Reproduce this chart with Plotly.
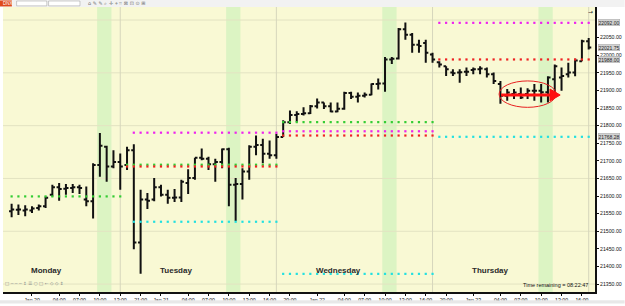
import plotly.graph_objects as go

# ---------------- data (hourly bars, index 0..85) ----------------
OPEN = [21557, 21561, 21559, 21559, 21566, 21571, 21604, 21625, 21621, 21623,
        21625, 21590, 21585, 21688, 21740, 21684, 21697, 21688, 21730, 21468,
        21590, 21590, 21625, 21604, 21595, 21596, 21637, 21651, 21709, 21706,
        21690, 21697, 21733, 21632, 21634, 21670, 21740, 21745, 21720, 21716,
        21768, 21810, 21830, 21833, 21835, 21855, 21866, 21855, 21840, 21848,
        21893, 21882, 21885, 21888, 21918, 21920, 21988, 21991, 22074, 22058,
        22030, 22035, 22002, 21980, 21969, 21951, 21951, 21953, 21958, 21960,
        21960, 21946, 21918, 21885, 21890, 21890, 21890, 21899, 21899, 21895,
        21932, 21937, 21946, 21951, 21983, 22040]
HIGH = [21578, 21576, 21574, 21571, 21576, 21599, 21632, 21637, 21634, 21634,
        21632, 21627, 21693, 21779, 21743, 21730, 21721, 21740, 21747, 21618,
        21609, 21651, 21632, 21618, 21620, 21646, 21676, 21709, 21735, 21712,
        21706, 21735, 21737, 21651, 21679, 21744, 21772, 21763, 21758, 21777,
        21815, 21843, 21841, 21852, 21859, 21877, 21866, 21866, 21866, 21896,
        21896, 21894, 21894, 21920, 21934, 21995, 21995, 22077, 22093, 22063,
        22044, 22044, 22007, 21983, 21969, 21960, 21960, 21965, 21965, 21969,
        21965, 21951, 21927, 21904, 21904, 21908, 21906, 21918, 21918, 21940,
        21974, 21965, 21979, 21990, 22044, 22049]
LOW = [21540, 21546, 21543, 21552, 21559, 21566, 21599, 21587, 21604, 21609,
       21606, 21571, 21536, 21655, 21641, 21679, 21618, 21674, 21449, 21379,
       21563, 21585, 21599, 21578, 21583, 21583, 21606, 21646, 21702, 21674,
       21641, 21679, 21571, 21529, 21590, 21646, 21716, 21693, 21706, 21706,
       21768, 21805, 21810, 21829, 21833, 21849, 21847, 21838, 21838, 21845,
       21876, 21866, 21880, 21886, 21903, 21896, 21975, 21988, 22044, 22007,
       22007, 21979, 21979, 21965, 21941, 21941, 21922, 21941, 21946, 21946,
       21937, 21918, 21862, 21871, 21876, 21876, 21876, 21871, 21866, 21866,
       21894, 21899, 21937, 21940, 21983, 22016]
CLOSE = [21562, 21562, 21562, 21565, 21571, 21595, 21625, 21620, 21623, 21625,
         21623, 21585, 21688, 21743, 21684, 21697, 21684, 21730, 21468, 21590,
         21587, 21625, 21604, 21595, 21596, 21641, 21651, 21709, 21706, 21690,
         21697, 21733, 21632, 21634, 21670, 21740, 21745, 21720, 21716, 21768,
         21810, 21830, 21833, 21835, 21855, 21866, 21855, 21840, 21848, 21893,
         21882, 21885, 21888, 21918, 21920, 21988, 21990, 22074, 22058, 22030,
         22026, 22007, 21988, 21974, 21960, 21949, 21952, 21953, 21960, 21962,
         21946, 21927, 21885, 21894, 21894, 21880, 21899, 21899, 21895, 21937,
         21969, 21941, 21951, 21985, 22040, 22021.75]
IDX = list(range(len(OPEN)))

# x tick labels (bar index -> label)
X_TICK_IDX = [3, 7, 10, 13, 16, 19, 22, 26, 29, 32, 35, 38, 41, 45, 49, 52, 55,
              58, 61, 64, 68, 72, 75, 78, 81, 84]
X_TICK_TXT = ["Jan 20", "04:00", "07:00", "10:00", "13:00", "21:00", "Jan 21",
              "04:00", "07:00", "10:00", "13:00", "16:00", "20:00", "Jan 22",
              "04:00", "07:00", "10:00", "13:00", "16:00", "20:00", "Jan 23",
              "04:00", "07:00", "10:00", "13:00", "16:00"]

Y_TICKS = [21350 + 50 * k for k in range(15)]
Y_GRID = [21350 + 150 * k for k in range(6)]

SESSION_END_IDX = [16, 39, 62, 85]
TEN_AM_IDX = [13, 32, 55, 78]

DAY_NAMES = ["Monday", "Tuesday", "Wednesday", "Thursday"]
DAY_LABEL_IDX = [5.1, 24.2, 48.1, 70.6]

# level lines: (color, price, first bar, last bar)
LEVEL_COLOR = ["#33cc33", "#ee22ee", "#33cc33", "#ee2222", "#22e0e0",
               "#33cc33", "#ee22ee", "#ee2222", "#22e0e0",
               "#ee22ee", "#ee2222", "#22e0e0"]
LEVEL_PRICE = [21599, 21780, 21689, 21684, 21527,
               21810, 21784, 21772, 21379,
               22092, 21988, 21768.28]
LEVEL_START = [0, 18, 17, 17, 18, 40, 40, 40, 40, 63, 63, 63]
LEVEL_END = [16, 39, 39, 39, 39, 62, 62, 62, 62, 85, 85, 85]

PRICE_BOXES = [22092.00, 22021.75, 21988.00, 21768.28]

BG = "#f9f9d4"
FONT = "Liberation Sans"

fig = go.Figure()

fig.add_trace(go.Ohlc(
    x=IDX, open=OPEN, high=HIGH, low=LOW, close=CLOSE,
    increasing=dict(line=dict(color="#111111", width=2)),
    decreasing=dict(line=dict(color="#111111", width=2)),
    tickwidth=0.38, hoverinfo="skip", showlegend=False))

for col, pr, s, e in zip(LEVEL_COLOR, LEVEL_PRICE, LEVEL_START, LEVEL_END):
    xs = list(range(s, e + 1))
    fig.add_trace(go.Scatter(
        x=xs, y=[pr] * len(xs), mode="markers",
        marker=dict(symbol="square", size=2.2, color=col, line=dict(width=0)),
        hoverinfo="skip", showlegend=False))

shapes = []
# green session bands
for t in TEN_AM_IDX:
    shapes.append(dict(type="rect", xref="x", yref="paper", x0=t - 0.4, x1=t + 1.7,
                       y0=0, y1=1, fillcolor="#dcf4c3", line=dict(width=0),
                       layer="below"))
# horizontal grid
for g in Y_GRID:
    shapes.append(dict(type="line", xref="paper", yref="y", x0=0, x1=1, y0=g, y1=g,
                       line=dict(color="#e3e3c2", width=1), layer="below"))
# session separators
for s in SESSION_END_IDX:
    shapes.append(dict(type="line", xref="x", yref="paper", x0=s, x1=s, y0=0, y1=1,
                       line=dict(color="#d6d6bc", width=1), layer="below"))

# ellipse + arrow annotation
ELL_X = [71.8, 80.2]
ELL_Y = [21852, 21927]
shapes.append(dict(type="circle", xref="x", yref="y", x0=ELL_X[0], x1=ELL_X[1],
                   y0=ELL_Y[0], y1=ELL_Y[1], line=dict(color="#e82020", width=1)))
ARROW_Y = 21887
ARROW_X = [72.1, 79.3, 80.8]
shapes.append(dict(type="line", xref="x", yref="y", x0=ARROW_X[0], x1=ARROW_X[1],
                   y0=ARROW_Y, y1=ARROW_Y, line=dict(color="#ff1010", width=3)))
shapes.append(dict(type="path", xref="x", yref="y",
                   path=f"M {ARROW_X[1]},{ARROW_Y - 17} L {ARROW_X[2]},{ARROW_Y} L {ARROW_X[1]},{ARROW_Y + 17} Z",
                   fillcolor="#ff1010", line=dict(color="#ff1010", width=1)))

# top toolbar
shapes.append(dict(type="rect", xref="paper", yref="paper", x0=-0.01, x1=1.05,
                   y0=1.0, y1=1.03, fillcolor="#f2f2f2", line=dict(width=0)))
shapes.append(dict(type="rect", xref="paper", yref="paper", x0=-0.006, x1=0.015,
                   y0=1.002, y1=1.023, fillcolor="#e04a1a", line=dict(width=0)))
shapes.append(dict(type="rect", xref="paper", yref="paper", x0=0.023, x1=0.074,
                   y0=1.004, y1=1.021, fillcolor="white", line=dict(color="#999", width=0.5)))
shapes.append(dict(type="rect", xref="paper", yref="paper", x0=0.077, x1=0.13,
                   y0=1.004, y1=1.021, fillcolor="white", line=dict(color="#999", width=0.5)))
# bottom scrollbar strip
shapes.append(dict(type="rect", xref="paper", yref="paper", x0=-0.01, x1=1.05,
                   y0=-0.04, y1=-0.029, fillcolor="#e8e8e8", line=dict(width=0)))

annotations = []
for name, xi in zip(DAY_NAMES, DAY_LABEL_IDX):
    annotations.append(dict(x=xi, y=0.075, xref="x", yref="paper", text=f"<b>{name}</b>",
                            showarrow=False, font=dict(family=FONT, size=8, color="#2a2a2a"),
                            xanchor="center", yanchor="middle"))
for pb in PRICE_BOXES:
    annotations.append(dict(x=1.0, y=pb, xref="paper", yref="y", text=f"{pb:.2f}",
                            showarrow=False, xanchor="left", xshift=3,
                            font=dict(family=FONT, size=5, color="#222"),
                            bgcolor="#d2d2d2", bordercolor="#a8a8a8", borderwidth=0.5,
                            borderpad=0))
annotations.append(dict(x=0.992, y=0.008, xref="paper", yref="paper",
                        text="Time remaining = 08:22:47", showarrow=False,
                        xanchor="right", yanchor="bottom",
                        font=dict(family=FONT, size=5.5, color="#111")))
annotations.append(dict(x=0.0, y=1.013, xref="paper", yref="paper", text="DNX",
                        showarrow=False, xanchor="left", yanchor="middle", xshift=-2,
                        font=dict(family=FONT, size=4.5, color="white")))
annotations.append(dict(x=0.14, y=1.013, xref="paper", yref="paper",
                        text="⌂ ✎ ✎ ⌕ ✛ ⌖ ⌗ ⊠ ⊡ ⊙ ⊞",
                        showarrow=False, xanchor="left", yanchor="middle",
                        font=dict(family="DejaVu Sans", size=5, color="#777")))
annotations.append(dict(x=0.0, y=0.03, xref="paper", yref="paper",
                        text="□ ─ ─ ─ ↕ ☰ ○ □ ← ◇ ◇ ⇕",
                        showarrow=False, xanchor="left", yanchor="middle",
                        font=dict(family="DejaVu Sans", size=4.5, color="#888")))
annotations.append(dict(x=0.992, y=0.985, xref="paper", yref="paper", text="→",
                        showarrow=False, xanchor="center", yanchor="middle",
                        font=dict(family="DejaVu Sans", size=6, color="#333")))

fig.update_layout(
    width=625, height=306,
    margin=dict(l=3, r=23, t=7, b=11),
    paper_bgcolor="white", plot_bgcolor=BG,
    shapes=shapes, annotations=annotations,
    showlegend=False,
    font=dict(family=FONT, size=5.5, color="#111"),
    xaxis=dict(range=[-1.27, 85.93], rangeslider=dict(visible=False),
               tickmode="array", tickvals=X_TICK_IDX, ticktext=X_TICK_TXT,
               ticks="outside", ticklen=2, tickwidth=1, tickcolor="#111",
               tickfont=dict(family=FONT, size=5.2, color="#111"),
               showgrid=False, zeroline=False, showline=True,
               linecolor="#111", linewidth=2, fixedrange=True),
    yaxis=dict(range=[21327.5, 22137], side="right",
               tickmode="array", tickvals=Y_TICKS,
               ticktext=[f"{v:.2f}" for v in Y_TICKS],
               ticks="outside", ticklen=2, tickwidth=1, tickcolor="#111",
               tickfont=dict(family=FONT, size=5.2, color="#111"),
               showgrid=False, zeroline=False, showline=True,
               linecolor="#111", linewidth=2, fixedrange=True),
)

fig.write_html("out.html")
